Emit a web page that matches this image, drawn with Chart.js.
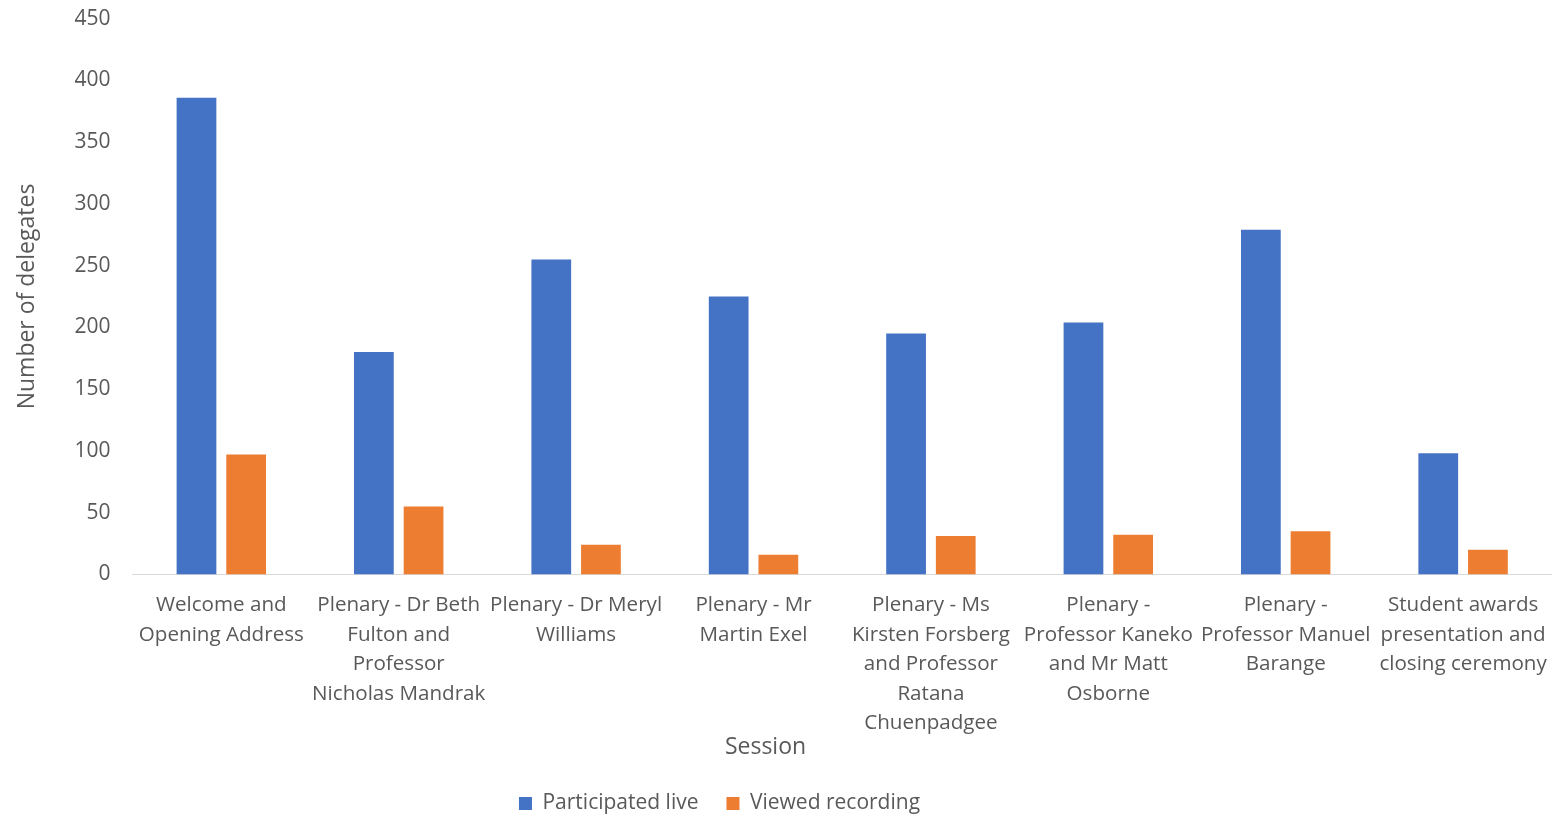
<!DOCTYPE html>
<html>
<head>
<meta charset="utf-8">
<script src="https://cdn.jsdelivr.net/npm/chart.js@4.4.0/dist/chart.umd.min.js"></script>
<style>
  html, body { margin: 0; padding: 0; background: #fff; }
  #wrap { width: 1563px; height: 816px; }
</style>
</head>
<body>
<div id="wrap"><canvas id="chart"></canvas></div>
<script>
const sessions = [
    ['Welcome and', 'Opening Address'],
    ['Plenary - Dr Beth', 'Fulton and', 'Professor', 'Nicholas Mandrak'],
    ['Plenary - Dr Meryl', 'Williams'],
    ['Plenary - Mr', 'Martin Exel'],
    ['Plenary - Ms', 'Kirsten Forsberg', 'and Professor', 'Ratana', 'Chuenpadgee'],
    ['Plenary -', 'Professor Kaneko', 'and Mr Matt', 'Osborne'],
    ['Plenary -', 'Professor Manuel', 'Barange'],
    ['Student awards', 'presentation and', 'closing ceremony']
];
const participatedLive = [386, 180, 255, 225, 195, 204, 279, 98];
const viewedRecording = [97, 55, 24, 16, 31, 32, 35, 20];

const textColor = '#595959';
const family = '"Open Sans", sans-serif';

// the legend and the "Session" caption sit a little left of centre in the original
const nudge = {
    id: 'nudge',
    afterLayout(chart) {
        [[chart.titleBlock, -17], [chart.legend, -63]].forEach(([box, dx]) => {
            if (box) { box.left += dx; box.right += dx; }
        });
    }
};

new Chart(document.getElementById('chart'), {
    type: 'bar',
    data: {
        labels: sessions,
        datasets: [
            { label: 'Participated live', data: participatedLive, backgroundColor: '#4472c4' },
            { label: 'Viewed recording', data: viewedRecording, backgroundColor: '#ed7d31' }
        ]
    },
    plugins: [nudge],
    options: {
        responsive: true,
        maintainAspectRatio: false,
        animation: false,
        layout: { padding: { top: 0, right: 3, left: 5, bottom: -8 } },
        datasets: { bar: { categoryPercentage: 0.56, barPercentage: 0.8 } },
        plugins: {
            title: {
                display: true, position: 'bottom', weight: 500,
                text: 'Session', color: textColor, font: { family, size: 23, weight: 'normal' },
                padding: { top: -21, bottom: 4 }
            },
            legend: {
                position: 'bottom', weight: 1000,
                labels: { color: textColor, font: { family, size: 21 }, boxWidth: 13, boxHeight: 13, padding: 28 }
            },
            tooltip: { enabled: false }
        },
        scales: {
            x: {
                grid: { display: false, drawTicks: false },
                border: { color: '#d9d9d9', width: 1 },
                ticks: { color: textColor, font: { family, size: 20.6, lineHeight: 1.437 }, maxRotation: 0, autoSkip: false, padding: 16 }
            },
            y: {
                min: 0, max: 450,
                grid: { display: false, drawTicks: true, tickLength: 16 },
                border: { display: false },
                ticks: { stepSize: 50, color: textColor, font: { family, size: 21 }, padding: 6 },
                title: { display: true, text: 'Number of delegates', color: textColor, font: { family, size: 23 }, padding: { top: 9, bottom: 27 } }
            }
        }
    }
});
</script>
</body>
</html>
